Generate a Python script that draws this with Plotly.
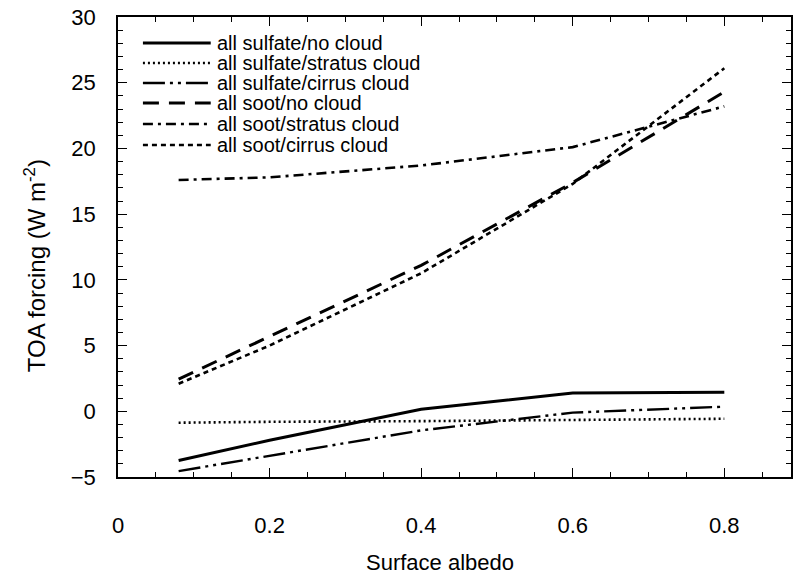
import plotly.graph_objects as go

# ---- data ----
albedo = [0.08, 0.2, 0.4, 0.6, 0.8]
sulfate_no_cloud = [-3.75, -2.2, 0.15, 1.4, 1.45]
sulfate_stratus = [-0.87, -0.8, -0.75, -0.68, -0.57]
sulfate_cirrus = [-4.55, -3.4, -1.45, -0.1, 0.35]
soot_no_cloud = [2.45, 5.7, 11.1, 17.4, 24.3]
soot_stratus = [17.6, 17.8, 18.7, 20.1, 23.2]
soot_cirrus = [2.1, 5.0, 10.5, 17.3, 26.1]

series_names = [
    "all sulfate/no cloud",
    "all sulfate/stratus cloud",
    "all sulfate/cirrus cloud",
    "all soot/no cloud",
    "all soot/stratus cloud",
    "all soot/cirrus cloud",
]
series_values = [sulfate_no_cloud, sulfate_stratus, sulfate_cirrus,
                 soot_no_cloud, soot_stratus, soot_cirrus]

x_title = "Surface albedo"
y_title = "TOA forcing (W m<sup>-2</sup>)"

# ---- styles ----
dashes = ["solid", "2px,3px", "22px,5px,3px,5px,3px,5px",
          "16px,10px", "10px,5px,3px,5px", "5px,4px"]
widths = [3, 2.6, 2.4, 3, 2.6, 2.6]

FONT = "Arial, Liberation Sans, Helvetica, sans-serif"
W, H = 793, 576
ML, MR, MT, MB = 118, 0, 17, 99
PW, PH = W - ML - MR, H - MT - MB

fig = go.Figure()
for name, vals, d, w in zip(series_names, series_values, dashes, widths):
    fig.add_trace(go.Scatter(x=albedo, y=vals, mode="lines", name=name,
                             line=dict(color="black", width=w, dash=d),
                             showlegend=False))

# custom compact legend (line sample + text)
def px_x(p):
    return (p - ML) / PW

def px_y(p):
    return (H - MB - p) / PH

row_y = [43, 63, 83, 103, 124, 145]
for name, d, w, ry in zip(series_names, dashes, widths, row_y):
    fig.add_shape(type="line", xref="paper", yref="paper",
                  x0=px_x(143), x1=px_x(211), y0=px_y(ry), y1=px_y(ry),
                  line=dict(color="black", width=w, dash=d))
    fig.add_annotation(xref="paper", yref="paper", x=px_x(215), y=px_y(ry),
                       text=name, showarrow=False, xanchor="left",
                       yanchor="middle",
                       font=dict(family=FONT, size=20, color="black"))

# axis titles
fig.add_annotation(xref="paper", yref="paper", x=px_x(441), y=px_y(562),
                   text=x_title, showarrow=False, xanchor="center",
                   yanchor="middle", font=dict(family=FONT, size=22, color="black"))
fig.add_annotation(xref="paper", yref="paper", x=px_x(35), y=px_y(266),
                   text=y_title, showarrow=False, textangle=-90,
                   xanchor="center", yanchor="middle",
                   font=dict(family=FONT, size=24, color="black"))

axis_common = dict(showline=True, linecolor="black", linewidth=1.5,
                   mirror="ticks", ticks="inside", ticklen=9, tickwidth=1.3,
                   tickcolor="black", showgrid=False, zeroline=False,
                   tickfont=dict(family=FONT, size=22, color="black"))

fig.update_layout(
    width=W, height=H,
    margin=dict(l=ML, r=MR, t=MT, b=MB, pad=0),
    paper_bgcolor="white", plot_bgcolor="white",
    showlegend=False,
    xaxis=dict(range=[0, 0.888],
               tickvals=[0, 0.2, 0.4, 0.6, 0.8],
               ticktext=["0", "0.2", "0.4", "0.6", "0.8"],
               ticklabelstandoff=28,
               minor=dict(dtick=0.05, ticks="inside", ticklen=5,
                          tickcolor="black", tickwidth=1.2, showgrid=False),
               **axis_common),
    yaxis=dict(range=[-5, 30], tick0=-5, dtick=5,
               ticklabelstandoff=16,
               minor=dict(dtick=1, ticks="inside", ticklen=5,
                          tickcolor="black", tickwidth=1.2, showgrid=False),
               **axis_common),
)

fig.write_html("out.html")
